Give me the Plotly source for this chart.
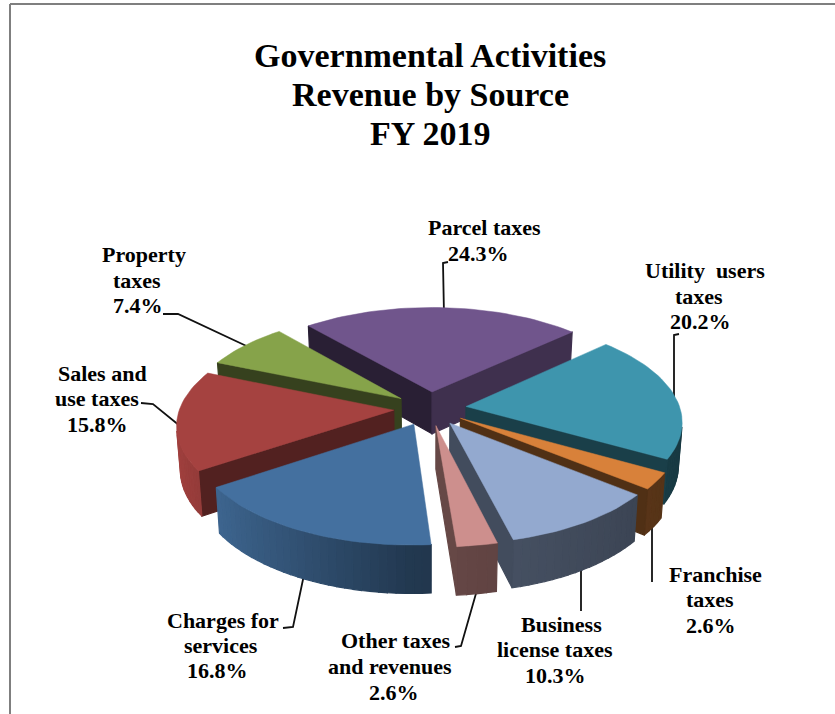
import math
import plotly.graph_objects as go

# Revenue shares, percent, clockwise from the back of the pie
categories = ["Parcel taxes", "Utility users taxes", "Franchise taxes", "Business license taxes",
              "Other taxes and revenues", "Charges for services", "Sales and use taxes", "Property taxes"]
shares = [24.3, 20.2, 2.6, 10.3, 2.6, 16.8, 15.8, 7.4]
title_lines = ["Governmental Activities", "Revenue by Source", "FY 2019"]
label_lines = [["Parcel taxes"], ["Utility  users", "taxes"], ["Franchise", "taxes"],
               ["Business", "license taxes"], ["Other taxes", "and revenues"],
               ["Charges for", "services"], ["Sales and", "use taxes"], ["Property", "taxes"]]

# Slice styling
top_colors = ["#70558c", "#3e95ad", "#d8813a", "#93a9cf", "#cd8f8d", "#44709f", "#a54240", "#86a34a"]
start_wall = [0.37, 0.42, 0.37, 0.45, 0.50, 0.60, 0.50, 0.40]
end_wall = [0.56, 0.42, 0.37, 0.45, 0.50, 0.60, 0.50, 0.40]
LABEL_SERIF = "Liberation Serif"

# Projection of the tilted, exploded pie
FIRST_ANGLE = -40.5
EXPLODE = 0.17
CX, CY = 430.0, 408.5
SCALE_X, SCALE_Y = 214.0, 100.0
PERSPECTIVE = 0.135
THICKNESS = 42.6
BOTTOM_SCALE = 0.985

# Text centres and leader paths, in figure pixels
label_anchor = [[(484, 227), (478, 253)],
                [(705, 270), (699, 296), (700, 321)],
                [(715, 574), (710, 599), (711, 625)],
                [(561, 624), (555, 649), (555, 675)],
                [(395, 640), (390, 666), (394, 692)],
                [(223, 620), (221, 645), (217, 670)],
                [(102, 373), (97, 398), (97, 424)],
                [(144, 254), (137, 280), (138, 305)]]
title_rows = [55, 94, 133]
leaders = [[(448, 262), (443, 263), (444, 315)],
           [(679, 334), (674, 335), (674, 405)],
           [(652, 520), (652, 582)],
           [(581, 565), (581, 611)],
           [(477, 590), (461, 646), (455, 647)],
           [(305, 570), (293, 627), (283, 628)],
           [(141, 403), (153, 404), (180, 426)],
           [(163, 314), (178, 314), (255, 350)]]


def project(x, y, lower=False):
    w = 1.0 / (1.0 + PERSPECTIVE * y)
    sx = SCALE_X * x * w
    sy = -SCALE_Y * y * w
    if lower:
        sx *= BOTTOM_SCALE
        sy = sy * BOTTOM_SCALE + THICKNESS * w
    return CX + sx, CY + sy


def area(pts):
    return 0.5 * sum(pts[i][0] * pts[(i + 1) % len(pts)][1] - pts[(i + 1) % len(pts)][0] * pts[i][1]
                     for i in range(len(pts)))


def shade(hex_color, factor):
    r, g, b = (int(hex_color[i:i + 2], 16) for i in (1, 3, 5))
    return f"rgb({min(255, r * factor):.0f},{min(255, g * factor):.0f},{min(255, b * factor):.0f})"


def rim_factor(nx):
    # Rim walls brighten toward the left and darken toward the right
    if nx < 0:
        return 0.50 + 0.48 * (-nx)
    return 0.50 - 0.12 * nx


def polygon(pts, color, edge=1.2):
    xs = [p[0] for p in pts] + [pts[0][0]]
    ys = [p[1] for p in pts] + [pts[0][1]]
    return go.Scatter(x=xs, y=ys, mode="lines", fill="toself", fillcolor=color,
                      line=dict(color=color, width=edge), hoverinfo="skip", showlegend=False)


fig = go.Figure()

for path in leaders:
    fig.add_trace(go.Scatter(x=[p[0] for p in path], y=[p[1] for p in path], mode="lines",
                             line=dict(color="#111111", width=1.8), hoverinfo="skip", showlegend=False))

# Work out each wedge's angular span from its share
slices = []
angle = FIRST_ANGLE
for i, share in enumerate(shares):
    sweep = share * 3.6
    slices.append((i, angle, angle + sweep))
    angle += sweep

# Paint from the back of the pie to the front
slices.sort(key=lambda s: -math.cos(math.radians((s[1] + s[2]) / 2)))

for i, a0, a1 in slices:
    mid = math.radians((a0 + a1) / 2)
    ox, oy = EXPLODE * math.sin(mid), EXPLODE * math.cos(mid)
    steps = max(2, int((a1 - a0) / 2))
    angles = [math.radians(a0 + (a1 - a0) * k / steps) for k in range(steps + 1)]
    ring = [(ox + math.sin(t), oy + math.cos(t)) for t in angles]
    outline = [(ox, oy)] + ring
    top = [project(*p) for p in outline]
    low = [project(*p, lower=True) for p in outline]
    sign = area(top)

    n = len(outline)
    for k in range(n):
        j = (k + 1) % n
        quad = [top[j], top[k], low[k], low[j]]
        if area(quad) * sign <= 0:
            continue
        if k == 0:
            factor = start_wall[i]
        elif j == 0:
            factor = end_wall[i]
        else:
            factor = rim_factor(math.sin((angles[k - 1] + angles[j - 1]) / 2))
        fig.add_trace(polygon(quad, shade(top_colors[i], factor)))
    fig.add_trace(polygon(top, top_colors[i], edge=0.5))

annotations = []
for line, y in zip(title_lines, title_rows):
    annotations.append(dict(x=430, y=y, text=line, xref="x", yref="y", showarrow=False,
                            xanchor="center", yanchor="middle",
                            font=dict(family=LABEL_SERIF, size=34, color="#000000", weight="bold")))
for lines, share, anchors in zip(label_lines, shares, label_anchor):
    for line, (x, y) in zip(lines + [f"{share:.1f}%"], anchors):
        annotations.append(dict(x=x, y=y, text=line, xref="x", yref="y", showarrow=False,
                                xanchor="center", yanchor="middle",
                                font=dict(family=LABEL_SERIF, size=22, color="#000000", weight="bold")))

fig.update_layout(
    width=835, height=714, margin=dict(l=0, r=0, t=0, b=0),
    paper_bgcolor="white", plot_bgcolor="white", showlegend=False,
    xaxis=dict(range=[0, 835], visible=False, fixedrange=True),
    yaxis=dict(range=[714, 0], visible=False, fixedrange=True),
    annotations=annotations,
    shapes=[
        dict(type="line", xref="x", yref="y", x0=10, y0=4, x1=835, y1=4, line=dict(color="#7f7f7f", width=2)),
        dict(type="line", xref="x", yref="y", x0=10, y0=4, x1=10, y1=714, line=dict(color="#7f7f7f", width=2)),
    ],
)

fig.write_html("out.html", config={"displayModeBar": False})
